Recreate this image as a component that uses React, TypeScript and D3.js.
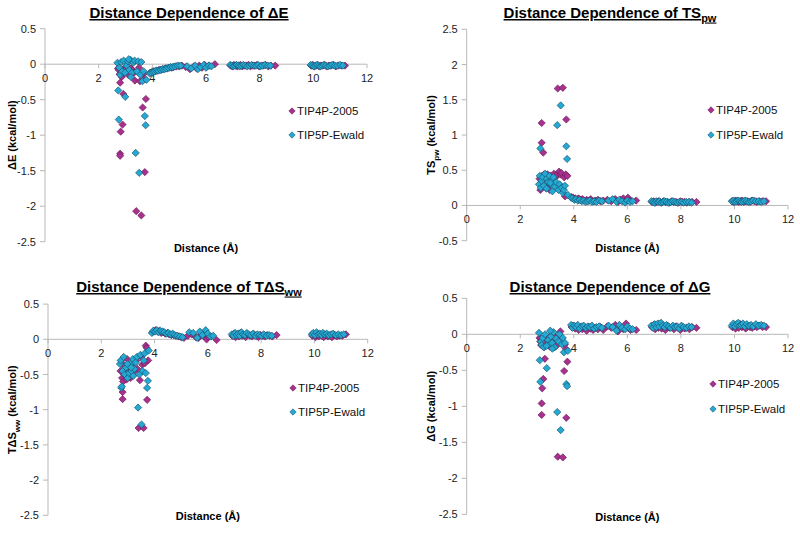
import React from 'react';
import * as d3 from 'd3';

// ---------- data ----------
const xTicks = [0, 2, 4, 6, 8, 10, 12];
const yTicksEnergy = [0.5, 0, -0.5, -1, -1.5, -2, -2.5];
const yTicksTS = [2.5, 2, 1.5, 1, 0.5, 0, -0.5];
const seriesNames = ['TIP4P-2005', 'TIP5P-Ewald'];

// distances (Å) of each water, TIP4P-2005
const xTIP4P = [
  2.72, 2.75, 2.78, 2.80, 2.80, 2.82, 2.86, 2.89, 2.80, 2.92, 2.97, 3.02, 3.08, 3.14, 3.20, 3.26, 3.32, 3.35, 3.40, 3.45, 3.50, 3.54, 3.59, 3.64, 3.67, 3.72, 3.70, 3.76, 3.10, 2.95,
  3.92, 3.98, 4.05, 4.12, 4.18, 4.25, 4.32, 4.40, 4.48, 4.55, 4.63, 4.72, 4.80, 4.90, 5.00, 5.10, 5.25, 5.40, 5.55, 5.65, 5.75, 5.85, 5.95, 6.02, 6.12, 6.33,
  6.92, 6.98, 7.04, 7.10, 7.16, 7.22, 7.28, 7.35, 7.42, 7.50, 7.58, 7.66, 7.74, 7.82, 7.90, 7.98, 8.06, 8.14, 8.22, 8.32, 8.42, 8.58,
  9.92, 9.98, 10.04, 10.10, 10.16, 10.22, 10.28, 10.35, 10.42, 10.50, 10.58, 10.66, 10.75, 10.84, 10.94, 11.05, 11.18,
];
// distances (Å) of each water, TIP5P-Ewald
const xTIP5P = [
  2.70, 2.73, 2.75, 2.77, 2.80, 2.84, 2.88, 2.93, 2.99, 3.04, 3.09, 3.14, 3.19, 3.24, 3.29, 3.34, 3.38, 3.43, 3.47, 3.51, 3.55, 3.59, 3.63, 3.67, 3.72, 3.75, 3.78, 2.98, 3.20, 3.12,
  3.90, 3.95, 4.02, 4.08, 4.15, 4.22, 4.30, 4.37, 4.45, 4.52, 4.60, 4.68, 4.76, 4.85, 4.95, 5.05, 5.30, 5.45, 5.60, 5.70, 5.80, 5.92, 6.00, 6.10, 6.20,
  6.90, 6.96, 7.02, 7.08, 7.14, 7.20, 7.26, 7.32, 7.39, 7.46, 7.54, 7.62, 7.70, 7.78, 7.86, 7.94, 8.02, 8.10, 8.20, 8.30, 8.40,
  9.90, 9.96, 10.02, 10.08, 10.14, 10.20, 10.26, 10.32, 10.39, 10.46, 10.54, 10.62, 10.70, 10.80, 10.90, 11.00, 11.10,
];

// ΔE (kcal/mol)
const dE_TIP4P = [
  -0.06, -0.08, -0.14, -1.26, -1.29, -0.95, -0.18, -0.85, -0.26, -0.42, -0.05, -0.07, -0.03, -0.10, -0.06, -0.08, -0.12, -0.23, -2.07, -0.10, -0.05, -0.24, -2.13, -0.61, -0.14, -1.52, -0.21, -0.49, -0.15, -0.12,
  -0.12, -0.11, -0.10, -0.10, -0.09, -0.08, -0.08, -0.07, -0.06, -0.06, -0.05, -0.05, -0.04, -0.03, -0.03, -0.02, -0.04, -0.07, -0.03, -0.06, -0.02, -0.05, -0.01, -0.04, -0.02, 0.00,
  -0.02, -0.03, -0.01, -0.02, -0.03, -0.02, -0.01, -0.03, -0.02, -0.02, -0.01, -0.03, -0.02, -0.02, -0.01, -0.03, -0.02, -0.02, -0.01, -0.03, -0.02, -0.02,
  -0.02, -0.01, -0.03, -0.02, -0.01, -0.03, -0.02, -0.02, -0.01, -0.03, -0.02, -0.02, -0.01, -0.03, -0.02, -0.02, -0.02,
];
const dE_TIP5P = [
  0.02, -0.37, -0.78, -0.05, -0.15, 0.03, -0.10, 0.05, -0.46, -0.02, 0.04, -0.08, 0.06, -0.12, 0.02, 0.05, -1.25, -0.10, 0.04, -1.53, -0.15, 0.03, -0.24, -0.10, -0.73, -0.86, -0.22, -0.12, -0.18, 0.07,
  -0.13, -0.12, -0.11, -0.10, -0.09, -0.09, -0.08, -0.07, -0.07, -0.06, -0.05, -0.04, -0.04, -0.03, -0.02, -0.02, -0.03, -0.06, -0.02, -0.07, -0.04, -0.01, -0.05, -0.02, -0.03,
  -0.01, -0.02, -0.03, -0.02, -0.01, -0.02, -0.03, -0.02, -0.01, -0.02, -0.03, -0.02, -0.01, -0.02, -0.02, -0.01, -0.03, -0.02, -0.01, -0.02, -0.02,
  -0.01, -0.02, -0.03, -0.02, -0.01, -0.02, -0.03, -0.02, -0.01, -0.02, -0.03, -0.02, -0.01, -0.02, -0.02, -0.01, -0.02,
];

// TS_pw (kcal/mol)
const TSpw_TIP4P = [
  0.38, 0.22, 0.30, 1.17, 0.89, 0.42, 0.75, 0.44, 0.28, 0.40, 0.35, 0.44, 0.30, 0.42, 0.38, 0.45, 0.40, 0.43, 1.66, 0.48, 0.44, 0.46, 1.67, 0.40, 0.13, 1.22, 0.44, 0.42, 0.22, 0.25,
  0.12, 0.11, 0.10, 0.09, 0.10, 0.08, 0.09, 0.07, 0.08, 0.07, 0.09, 0.06, 0.07, 0.08, 0.06, 0.07, 0.08, 0.06, 0.09, 0.05, 0.08, 0.10, 0.06, 0.11, 0.07, 0.07,
  0.05, 0.06, 0.04, 0.05, 0.06, 0.05, 0.04, 0.06, 0.05, 0.05, 0.04, 0.06, 0.05, 0.05, 0.04, 0.06, 0.05, 0.05, 0.04, 0.05, 0.05, 0.05,
  0.06, 0.05, 0.07, 0.06, 0.05, 0.06, 0.07, 0.05, 0.06, 0.06, 0.05, 0.07, 0.06, 0.05, 0.06, 0.06, 0.06,
];
const TSpw_TIP5P = [
  0.30, 0.42, 0.81, 0.25, 0.35, 0.40, 0.28, 0.45, 0.38, 0.33, 0.42, 0.30, 0.36, 0.40, 0.27, 0.33, 1.14, 0.22, 0.30, 1.42, 0.25, 0.18, 0.22, 0.28, 0.84, 0.66, 0.15, 0.24, 0.20, 0.32,
  0.11, 0.10, 0.08, 0.09, 0.07, 0.08, 0.06, 0.07, 0.05, 0.06, 0.07, 0.05, 0.06, 0.05, 0.07, 0.06, 0.07, 0.09, 0.05, 0.08, 0.06, 0.04, 0.07, 0.05, 0.06,
  0.06, 0.05, 0.04, 0.06, 0.05, 0.06, 0.04, 0.05, 0.06, 0.05, 0.04, 0.05, 0.06, 0.05, 0.04, 0.05, 0.05, 0.04, 0.05, 0.05, 0.04,
  0.06, 0.07, 0.05, 0.06, 0.07, 0.06, 0.05, 0.06, 0.07, 0.06, 0.05, 0.06, 0.07, 0.06, 0.06, 0.05, 0.06,
];

// TΔS_ww (kcal/mol)
const TdSww_TIP4P = [
  -0.45, -0.30, -0.55, -0.85, -0.75, -0.60, -0.50, -0.40, -0.35, -0.52, -0.28, -0.47, -0.40, -0.50, -0.35, -0.45, -0.30, -0.42, -1.26, -0.58, -0.25, -0.36, -1.26, -0.34, -0.09, -0.86, -0.12, -0.30, -0.55, -0.57,
  0.10, 0.12, 0.13, 0.11, 0.12, 0.09, 0.10, 0.08, 0.09, 0.07, 0.06, 0.06, 0.05, 0.04, 0.03, 0.02, 0.05, 0.07, 0.03, 0.02, 0.08, 0.05, 0.00, 0.03, 0.04, -0.01,
  0.05, 0.08, 0.03, 0.07, 0.04, 0.09, 0.05, 0.06, 0.03, 0.07, 0.05, 0.04, 0.07, 0.05, 0.03, 0.06, 0.05, 0.04, 0.06, 0.05, 0.04, 0.06,
  0.05, 0.08, 0.03, 0.06, 0.04, 0.07, 0.05, 0.03, 0.06, 0.04, 0.05, 0.03, 0.06, 0.04, 0.05, 0.05, 0.07,
];
const TdSww_TIP5P = [
  -0.35, -0.30, -0.69, -0.67, -0.45, -0.25, -0.50, -0.40, -0.55, -0.48, -0.35, -0.45, -0.28, -0.42, -0.33, -0.25, -0.97, -0.50, -0.22, -1.21, -0.45, -0.30, -0.20, -0.48, -0.69, -0.59, -0.16, -0.35, -0.52, -0.40,
  0.09, 0.12, 0.11, 0.13, 0.10, 0.12, 0.11, 0.10, 0.08, 0.09, 0.07, 0.08, 0.06, 0.05, 0.04, 0.03, 0.10, 0.09, 0.02, 0.11, 0.06, 0.13, 0.08, 0.04, 0.05,
  0.07, 0.05, 0.09, 0.06, 0.08, 0.05, 0.10, 0.07, 0.06, 0.09, 0.07, 0.06, 0.08, 0.05, 0.07, 0.06, 0.05, 0.07, 0.05, 0.06, 0.05,
  0.07, 0.09, 0.06, 0.10, 0.07, 0.08, 0.06, 0.09, 0.07, 0.08, 0.06, 0.07, 0.08, 0.06, 0.07, 0.06, 0.07,
];

// ΔG (kcal/mol)
const dG_TIP4P = [
  -0.05, -0.10, -0.15, -1.12, -0.96, -0.75, -0.62, -0.18, -0.08, -0.34, -0.02, -0.12, -0.05, -0.15, 0.02, -0.10, -0.04, -0.16, -1.70, -0.08, 0.04, -0.12, -1.71, -0.51, -0.14, -1.16, -0.20, -0.38, -0.17, -0.06,
  0.10, 0.12, 0.08, 0.11, 0.06, 0.10, 0.07, 0.09, 0.05, 0.10, 0.08, 0.06, 0.09, 0.07, 0.10, 0.06, 0.11, 0.09, 0.13, 0.04, 0.10, 0.07, 0.15, 0.09, 0.06, 0.06,
  0.10, 0.13, 0.07, 0.12, 0.09, 0.14, 0.08, 0.11, 0.06, 0.12, 0.09, 0.10, 0.07, 0.11, 0.09, 0.06, 0.10, 0.08, 0.09, 0.07, 0.10, 0.09,
  0.10, 0.13, 0.08, 0.12, 0.09, 0.14, 0.10, 0.11, 0.08, 0.12, 0.10, 0.09, 0.11, 0.10, 0.12, 0.10, 0.10,
];
const dG_TIP5P = [
  0.02, -0.36, -0.66, -0.10, -0.15, -0.05, -0.18, 0.00, -0.47, -0.08, -0.14, -0.03, -0.12, 0.03, -0.18, -0.06, -1.08, -0.10, 0.00, -1.33, -0.14, -0.05, -0.25, -0.12, -0.69, -0.72, -0.23, -0.16, -0.20, 0.05,
  0.13, 0.09, 0.12, 0.10, 0.13, 0.08, 0.11, 0.12, 0.09, 0.11, 0.10, 0.12, 0.08, 0.10, 0.11, 0.09, 0.12, 0.10, 0.05, 0.13, 0.09, 0.07, 0.11, 0.08, 0.07,
  0.12, 0.09, 0.14, 0.10, 0.15, 0.11, 0.16, 0.12, 0.10, 0.13, 0.11, 0.09, 0.12, 0.10, 0.11, 0.08, 0.12, 0.10, 0.09, 0.11, 0.10,
  0.12, 0.15, 0.11, 0.14, 0.16, 0.12, 0.13, 0.15, 0.11, 0.14, 0.12, 0.13, 0.11, 0.14, 0.12, 0.13, 0.12,
];

// ---------- styling / layout ----------
const FONT = "'Liberation Sans', Arial, Helvetica, sans-serif";
const FILL = ['#a8318f', '#25a9d4'];
const STROKE = ['#6e1d5a', '#155870'];
const AXIS = '#b8b8b8';

type Part = { t: string; sub?: boolean };

interface PanelCfg {
  left: number; right: number; top: number; bottom: number;
  yDomain: [number, number]; yTicks: number[];
  title: Part[]; titleX: number; titleY: number;
  yLabel: Part[]; yLabelX: number;
  xTitleY: number;
  legendX: number; legendY: number[];
  ys: number[][];
}

const panels: PanelCfg[] = [
  {
    left: 45, right: 367, top: 28.7, bottom: 241.7, yDomain: [-2.5, 0.5], yTicks: yTicksEnergy,
    title: [{ t: 'Distance Dependence of ΔE' }], titleX: 189, titleY: 18,
    yLabel: [{ t: 'ΔE (kcal/mol)' }], yLabelX: 16, xTitleY: 252,
    legendX: 292, legendY: [111, 135], ys: [dE_TIP4P, dE_TIP5P],
  },
  {
    left: 466.7, right: 788, top: 29.3, bottom: 240.7, yDomain: [-0.5, 2.5], yTicks: yTicksTS,
    title: [{ t: 'Distance Dependence of TS' }, { t: 'pw', sub: true }], titleX: 610, titleY: 18,
    yLabel: [{ t: 'TS' }, { t: 'pw', sub: true }, { t: ' (kcal/mol)' }], yLabelX: 435, xTitleY: 252,
    legendX: 711, legendY: [110, 135], ys: [TSpw_TIP4P, TSpw_TIP5P],
  },
  {
    left: 48, right: 367.7, top: 304.1, bottom: 515.3, yDomain: [-2.5, 0.5], yTicks: yTicksEnergy,
    title: [{ t: 'Distance Dependence of TΔS' }, { t: 'ww', sub: true }], titleX: 189, titleY: 292,
    yLabel: [{ t: 'TΔS' }, { t: 'ww', sub: true }, { t: ' (kcal/mol)' }], yLabelX: 16, xTitleY: 520,
    legendX: 293, legendY: [388, 412], ys: [TdSww_TIP4P, TdSww_TIP5P],
  },
  {
    left: 466.7, right: 788, top: 298.3, bottom: 514.3, yDomain: [-2.5, 0.5], yTicks: yTicksEnergy,
    title: [{ t: 'Distance Dependence of ΔG' }], titleX: 610, titleY: 292,
    yLabel: [{ t: 'ΔG (kcal/mol)' }], yLabelX: 435, xTitleY: 521,
    legendX: 713, legendY: [384, 409], ys: [dG_TIP4P, dG_TIP5P],
  },
];

const xs = [xTIP4P, xTIP5P];

function diamond(r: number) {
  return `M0,${-r}L${r},0L0,${r}L${-r},0Z`;
}

function RichText({ parts, size, subSize }: { parts: Part[]; size: number; subSize: number }) {
  const out: React.ReactNode[] = [];
  let shifted = false;
  parts.forEach((p, i) => {
    let dy = 0;
    if (p.sub && !shifted) { dy = 3.5; shifted = true; }
    else if (!p.sub && shifted) { dy = -3.5; shifted = false; }
    out.push(
      <tspan key={i} dy={dy} fontSize={p.sub ? subSize : size}>{p.t}</tspan>
    );
  });
  return <>{out}</>;
}

function Panel({ cfg }: { cfg: PanelCfg }) {
  const x = d3.scaleLinear().domain([0, 12]).range([cfg.left, cfg.right]);
  const y = d3.scaleLinear().domain(cfg.yDomain).range([cfg.bottom, cfg.top]);
  const y0 = y(0);
  const midX = (cfg.left + cfg.right) / 2;
  const midY = (cfg.top + cfg.bottom) / 2;
  const r = 3.6;
  return (
    <g>
      {/* title */}
      <text x={cfg.titleX} y={cfg.titleY} textAnchor="middle" fontFamily={FONT} fontWeight="bold"
        fontSize={15} textDecoration="underline" fill="#000">
        <RichText parts={cfg.title} size={15} subSize={11} />
      </text>
      {/* y axis */}
      <line x1={cfg.left} x2={cfg.left} y1={cfg.top} y2={cfg.bottom} stroke={AXIS} strokeWidth={1} />
      {cfg.yTicks.map((t) => (
        <g key={'y' + t}>
          <line x1={cfg.left - 5} x2={cfg.left} y1={y(t)} y2={y(t)} stroke={AXIS} />
          <text x={cfg.left - 9} y={y(t) + 4} textAnchor="end" fontFamily={FONT} fontSize={11} fill="#222">
            {String(t)}
          </text>
        </g>
      ))}
      {/* x axis at zero */}
      <line x1={cfg.left} x2={cfg.right} y1={y0} y2={y0} stroke={AXIS} strokeWidth={1} />
      {xTicks.map((t) => (
        <g key={'x' + t}>
          <line x1={x(t)} x2={x(t)} y1={y0} y2={y0 + 4} stroke={AXIS} />
          <text x={x(t)} y={y0 + 18} textAnchor="middle" fontFamily={FONT} fontSize={11} fill="#222">
            {String(t)}
          </text>
        </g>
      ))}
      {/* axis titles */}
      <text x={midX} y={cfg.xTitleY} textAnchor="middle" fontFamily={FONT} fontWeight="bold" fontSize={11} fill="#000">
        Distance (Å)
      </text>
      <text transform={`translate(${cfg.yLabelX},${midY}) rotate(-90)`} textAnchor="middle" fontFamily={FONT}
        fontWeight="bold" fontSize={11} fill="#000">
        <RichText parts={cfg.yLabel} size={11} subSize={8} />
      </text>
      {/* points */}
      {cfg.ys.map((ys, s) => (
        <g key={'s' + s}>
          {ys.map((v, i) => (
            <path key={i} d={diamond(r)} transform={`translate(${x(xs[s][i])},${y(v)})`}
              fill={FILL[s]} stroke={STROKE[s]} strokeWidth={0.7} />
          ))}
        </g>
      ))}
      {/* legend */}
      {seriesNames.map((n, s) => (
        <g key={n}>
          <path d={diamond(3.2)} transform={`translate(${cfg.legendX},${cfg.legendY[s]})`} fill={FILL[s]} stroke={STROKE[s]} strokeWidth={0.6} />
          <text x={cfg.legendX + 5} y={cfg.legendY[s] + 4} fontFamily={FONT} fontSize={11.5} fill="#111">{n}</text>
        </g>
      ))}
    </g>
  );
}

export default function App() {
  return (
    <svg width={800} height={533} style={{ position: 'absolute', left: 0, top: 0, background: '#fff' }}>
      <rect x={0} y={0} width={800} height={533} fill="#fff" />
      {panels.map((p, i) => <Panel key={i} cfg={p} />)}
    </svg>
  );
}
